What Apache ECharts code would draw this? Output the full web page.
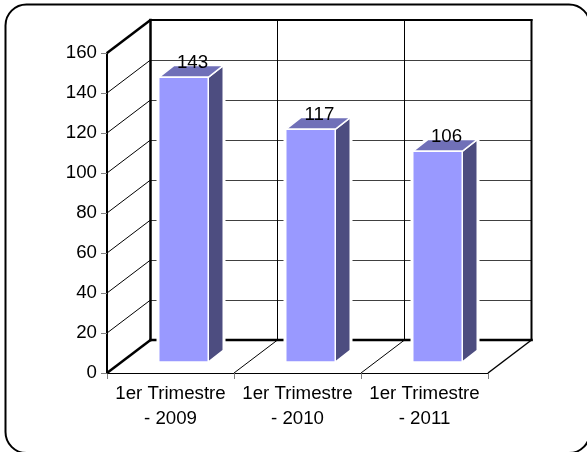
<!DOCTYPE html>
<html><head><meta charset="utf-8">
<style>html,body{margin:0;padding:0;background:#fff;overflow:hidden}#c{width:587px;height:452px}</style>
<script src="https://cdn.jsdelivr.net/npm/echarts@6/dist/echarts.min.js"></script></head>
<body><div id="c"></div>
<script>
const categories = ['1er Trimestre\n- 2009', '1er Trimestre\n- 2010', '1er Trimestre\n- 2011'];
const values = [143, 117, 106];
const yTicks = [0, 20, 40, 60, 80, 100, 120, 140, 160];
const boundaries = [0, 1, 2, 3];

const DEPTH_X = 43.5, DEPTH_Y = 33;
const FONT = '"Liberation Sans", Arial, sans-serif';
const FS = 18.7;
const chart = echarts.init(document.getElementById('c'), null, {renderer: 'canvas'});

const G0 = {left: 107, top: 53, width: 381, height: 320};
const G1 = {left: 107 + DEPTH_X, top: 53 - DEPTH_Y, width: 381, height: 320};

function wallLines(params, api) {
  const v = api.value(0);
  const s = params.coordSys;
  const y = api.coord([0, v])[1];
  const thick = v === 0 || v === 160;
  return {type: 'line', silent: true,
    shape: {x1: s.x, y1: y, x2: s.x + DEPTH_X, y2: y - DEPTH_Y},
    style: {stroke: '#000', lineWidth: thick ? 2.5 : 1}};
}
function floorLines(params, api) {
  const i = api.value(0);
  const s = params.coordSys;
  const x = s.x + s.width * i / categories.length;
  const y = s.y + s.height;
  return {type: 'line', silent: true,
    shape: {x1: x, y1: y, x2: x + DEPTH_X, y2: y - DEPTH_Y},
    style: {stroke: '#000', lineWidth: i === 3 ? 1.5 : 1}};
}
function backFrame(params, api) {
  const s = params.coordSys;
  const l = (x1, y1, x2, y2, w) => ({type: 'line', silent: true, shape: {x1, y1, x2, y2},
    style: {stroke: '#000', lineWidth: w, lineCap: 'square'}});
  return {type: 'group', children: [
    l(s.x, s.y, s.x + s.width, s.y, 2),
    l(s.x + s.width, s.y, s.x + s.width, s.y + s.height, 2),
    l(s.x, s.y + s.height, s.x + s.width, s.y + s.height, 2.5),
    l(s.x, s.y, s.x, s.y + s.height, 2.5)
  ]};
}
function bars(params, api) {
  const i = api.value(0), v = api.value(1);
  const c = api.coord([i, v]), base = api.coord([i, 0]);
  const w = 49.5, ox = 13, dx = 15, dy = -11.7;
  const L = c[0] - w / 2 + ox, R = L + w, T = c[1] - 9.7, B = base[1] - 11;
  const st = col => ({fill: col, stroke: '#fff', lineWidth: 1.5, lineJoin: 'miter'});
  const outline = [[L, T], [L + dx, T + dy], [R + dx, T + dy], [R + dx, B + dy], [R, B], [L, B]];
  return {type: 'group', children: [
    {type: 'polygon', shape: {points: outline}, style: {fill: '#fff', stroke: '#fff', lineWidth: 4.5}},
    {type: 'polygon', shape: {points: [[R, T], [R + dx, T + dy], [R + dx, B + dy], [R, B]]}, style: st('#4D4D80')},
    {type: 'polygon', shape: {points: [[L, T], [L + dx, T + dy], [R + dx, T + dy], [R, T]]}, style: st('#7070B8')},
    {type: 'rect', shape: {x: L, y: T, width: w, height: B - T}, style: st('#9999FF')},
    {type: 'text', style: {text: String(v), x: L + w / 2 + 9, y: T - 14.5, align: 'center', verticalAlign: 'middle',
      font: FS + 'px ' + FONT, fill: '#000'}, z2: 10}
  ]};
}
chart.setOption({
  animation: false,
  backgroundColor: '#fff',
  graphic: [{type: 'rect', shape: {x: 5.5, y: 4.5, width: 584.5, height: 448.5, r: 21}, silent: true,
    style: {fill: '#fff', stroke: '#000', lineWidth: 2}, z: -10}],
  grid: [
    Object.assign({containLabel: false}, G0),
    Object.assign({containLabel: false, show: false}, G1)
  ],
  xAxis: [
    {gridIndex: 0, type: 'category', data: categories, boundaryGap: true,
     axisLine: {lineStyle: {color: '#000', width: 1}},
     axisTick: {show: true, alignWithLabel: false, length: 6, lineStyle: {color: '#808080', width: 1}},
     axisLabel: {color: '#000', fontFamily: FONT, fontSize: FS, lineHeight: 25, margin: 8.5, interval: 0},
     splitLine: {show: false}},
    {gridIndex: 1, type: 'category', data: categories, boundaryGap: true,
     axisLine: {show: false}, axisTick: {show: false}, axisLabel: {show: false},
     splitLine: {show: true, interval: 0, lineStyle: {color: '#000', width: 1}}}
  ],
  yAxis: [
    {gridIndex: 0, type: 'value', min: 0, max: 160, interval: 20,
     axisLine: {show: true, lineStyle: {color: '#000', width: 2}},
     axisTick: {show: true, length: 6, lineStyle: {color: '#808080', width: 1}},
     axisLabel: {color: '#000', fontFamily: FONT, fontSize: FS, margin: 10},
     splitLine: {show: false}},
    {gridIndex: 1, type: 'value', min: 0, max: 160, interval: 20,
     axisLine: {show: false}, axisTick: {show: false}, axisLabel: {show: false},
     splitLine: {show: true, lineStyle: {color: '#404040', width: 1}}}
  ],
  series: [
    {type: 'custom', xAxisIndex: 1, yAxisIndex: 1, data: [[0]], renderItem: backFrame, silent: true, z: 2, clip: false},
    {type: 'custom', xAxisIndex: 0, yAxisIndex: 0, data: yTicks.map(v => [v]), renderItem: wallLines, silent: true, z: 3,
     encode: {y: 0}, clip: false},
    {type: 'custom', xAxisIndex: 0, yAxisIndex: 0, data: boundaries.map(v => [v]), renderItem: floorLines, silent: true, z: 3, clip: false},
    {type: 'custom', xAxisIndex: 0, yAxisIndex: 0, data: values.map((v, i) => [i, v]), renderItem: bars, silent: true, z: 5,
     encode: {x: 0, y: 1}, clip: false}
  ]
});
</script></body></html>
